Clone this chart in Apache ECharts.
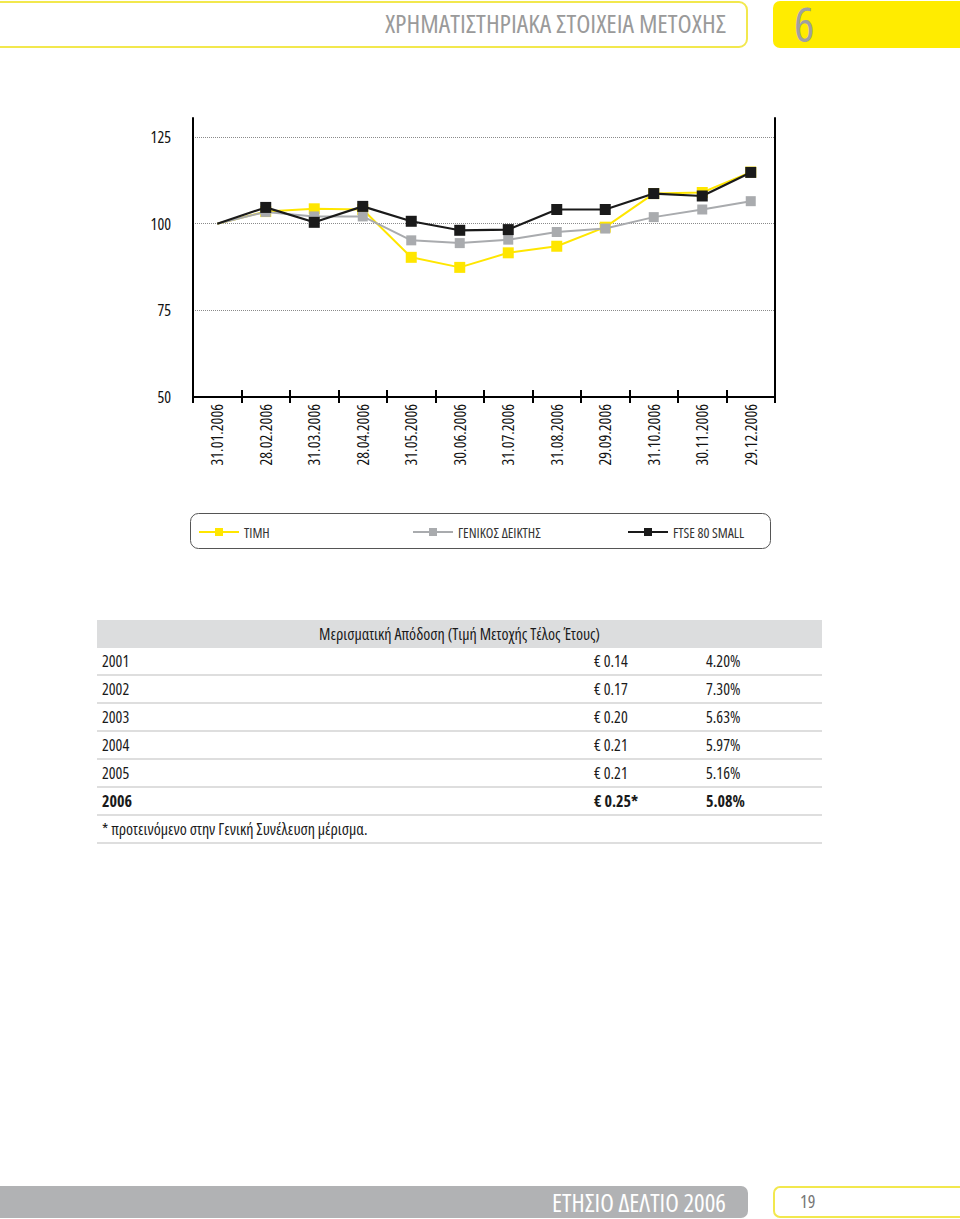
<!DOCTYPE html>
<html>
<head>
<meta charset="utf-8">
<script src="https://cdn.jsdelivr.net/npm/echarts@6/dist/echarts.min.js"></script>
<style>
  html, body { margin:0; padding:0; width:960px; height:1219px; overflow:hidden; background:#fff;
    font-family: "Open Sans", "Noto Sans", sans-serif; font-stretch: 75%; }
  .abs { position:absolute; box-sizing:border-box; }
  #hdr { left:-12px; top:1px; width:760px; height:47px; border:2px solid #f2e84e; border-radius:9px;
    color:#9a9a9a; font-size:26px; text-align:right; padding-right:20px; line-height:40px; }
  #hdrbox { left:773px; top:1px; width:187px; height:47px; background:#ffec00; border-radius:7px 0 0 7px; }
  #hdrnum { left:794px; top:0px; color:#a0a0a0; font-size:48px; line-height:48px; }
  #ftr { left:-12px; top:1186px; width:760px; height:32px; background:#b1b2b4; border-radius:7px;
    color:#fff; font-size:25px; text-align:right; padding-right:22px; line-height:32px; }
  #ftrnum { left:773px; top:1186px; width:187px; height:32px; border:2px solid #f2e84e; border-right:none;
    border-radius:7px 0 0 7px; color:#777; font-size:18px; line-height:27px; padding-left:25px; }
  #chart { left:0; top:100px; width:960px; height:460px; }
  #chart text { font-stretch: 75% !important; }
  #tbl { left:97px; top:620px; width:725px; font-size:16px; color:#1a1a1a; }
  #tbl .th { height:28px; background:#dcddde; text-align:center; line-height:28px; }
  #tbl .row { position:relative; box-sizing:border-box; height:28px; border-bottom:2px solid #dedede; line-height:27px; }
  #tbl .row span { position:absolute; top:0; }
  #tbl .b { font-weight:bold; }
</style>
</head>
<body>
<div id="hdr" class="abs">ΧΡΗΜΑΤΙΣΤΗΡΙΑΚΑ ΣΤΟΙΧΕΙΑ ΜΕΤΟΧΗΣ</div>
<div id="hdrbox" class="abs"></div>
<div id="hdrnum" class="abs">6</div>
<div id="chart" class="abs"></div>
<div id="tbl" class="abs"></div>
<div id="ftr" class="abs">ΕΤΗΣΙΟ ΔΕΛΤΙΟ 2006</div>
<div id="ftrnum" class="abs">19</div>
<script>
// ---- Chart data ----
const categories = ['31.01.2006','28.02.2006','31.03.2006','28.04.2006','31.05.2006','30.06.2006',
                    '31.07.2006','31.08.2006','29.09.2006','31.10.2006','30.11.2006','29.12.2006'];
const timi   = [100, 103.5, 104.3, 104.1, 90.3, 87.4, 91.6, 93.5, 99.0, 108.7, 109.0, 114.9];
const geniko = [100, 103.4, 102.1, 102.1, 95.2, 94.4, 95.4, 97.6, 98.6, 101.9, 104.1, 106.5];
const ftse   = [100, 104.7, 100.4, 105.0, 100.7, 98.1, 98.3, 104.1, 104.1, 108.7, 108.0, 114.8];
const seriesNames = ['ΤΙΜΗ', 'ΓΕΝΙΚΟΣ ΔΕΙΚΤΗΣ', 'FTSE 80 SMALL'];
const yTicks = [50, 75, 100, 125];

// ---- Table data ----
const tableTitle = 'Μερισματική Απόδοση (Τιμή Μετοχής Τέλος Έτους)';
const years = ['2001','2002','2003','2004','2005','2006'];
const dividends = ['€ 0.14','€ 0.17','€ 0.20','€ 0.21','€ 0.21','€ 0.25*'];
const yields = ['4.20%','7.30%','5.63%','5.97%','5.16%','5.08%'];
const footnote = '* προτεινόμενο στην Γενική Συνέλευση μέρισμα.';

// build table
(function(){
  const t = document.getElementById('tbl');
  let h = '<div class="th">' + tableTitle + '</div>';
  years.forEach((y, i) => {
    const cls = i === years.length - 1 ? 'row b' : 'row';
    h += '<div class="' + cls + '"><span style="left:5px">' + y + '</span>' +
         '<span style="left:497px">' + dividends[i] + '</span>' +
         '<span style="left:609px">' + yields[i] + '</span></div>';
  });
  h += '<div class="row"><span style="left:5px">' + footnote + '</span></div>';
  t.innerHTML = h;
})();

const FONT = '"Open Sans", "Noto Sans", sans-serif';
const colors = ['#ffe600', '#a9abae', '#1a1a1a'];
function mk(arr) {
  return arr.map((v, i) => i === 0 ? { value: v, symbol: 'none' } : v);
}
const chart = echarts.init(document.getElementById('chart'), null, { renderer: 'svg' });
const gridTop = 18, gridH = 279;
chart.setOption({
  animation: false,
  textStyle: { fontFamily: FONT, fontWeight: 400 },
  grid: { left: 193, right: 185, top: gridTop, height: gridH },
  xAxis: [{
    type: 'category', data: categories, boundaryGap: true, position: 'bottom',
    axisLine: { show: true, lineStyle: { color: '#000', width: 2 } },
    axisTick: { show: true, interval: 0, length: 6, lineStyle: { color: '#000', width: 2 } },
    axisLabel: { rotate: 90, interval: 0, fontSize: 16, fontWeight: 400, color: '#111', margin: 7, fontFamily: FONT },
    splitLine: { show: false }
  }, {
    type: 'category', data: categories, boundaryGap: true, position: 'top', offset: -gridH,
    axisLine: { show: false },
    axisTick: { show: true, interval: 0, length: 7, lineStyle: { color: '#000', width: 2 } },
    axisLabel: { show: false }, splitLine: { show: false }
  }],
  yAxis: [{
    type: 'value', min: yTicks[0], max: 130.5, interval: 25, position: 'left',
    axisLine: { show: true, lineStyle: { color: '#000', width: 2 } },
    axisTick: { show: false },
    axisLabel: { fontSize: 16, fontWeight: 400, color: '#111', margin: 22, showMaxLabel: false, fontFamily: FONT,
      formatter: v => (yTicks.indexOf(v) >= 0 ? String(v) : '') },
    splitLine: { show: true, showMinLine: false, showMaxLine: false,
      lineStyle: { color: '#8a8a8a', type: [1, 1], width: 1 } }
  }, {
    type: 'value', min: yTicks[0], max: 130.5, interval: 25, position: 'right',
    axisLine: { show: true, lineStyle: { color: '#000', width: 2 } },
    axisTick: { show: false }, axisLabel: { show: false }, splitLine: { show: false }
  }],
  legend: [0, 1, 2].map((i) => ({
    data: [seriesNames[i]], left: [193, 407, 622][i], top: 420, padding: 5,
    itemWidth: 40, itemHeight: 10,
    textStyle: { fontSize: 14, fontWeight: 400, color: '#333', fontFamily: FONT },
    selectedMode: false
  })),
  graphic: [{
    type: 'rect',
    shape: { x: 190.5, y: 413.5, width: 580, height: 35, r: 8 },
    style: { fill: 'none', stroke: '#555', lineWidth: 1 }, silent: true, z: -1
  }],
  series: [
    { name: seriesNames[0], type: 'line', data: mk(timi), symbol: 'rect', symbolSize: 11, z: 2,
      itemStyle: { color: colors[0] }, lineStyle: { color: colors[0], width: 2 } },
    { name: seriesNames[1], type: 'line', data: mk(geniko), symbol: 'rect', symbolSize: 10, z: 3,
      itemStyle: { color: colors[1] }, lineStyle: { color: colors[1], width: 2 } },
    { name: seriesNames[2], type: 'line', data: mk(ftse), symbol: 'rect', symbolSize: 11, z: 4,
      itemStyle: { color: colors[2] }, lineStyle: { color: colors[2], width: 2.2 } }
  ]
});
</script>
</body>
</html>
